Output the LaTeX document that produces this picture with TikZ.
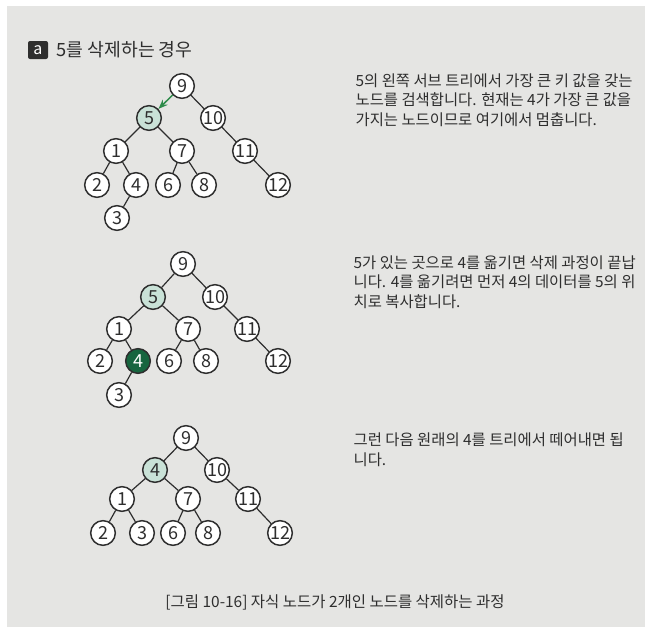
\documentclass[tikz,border=0pt]{standalone}
\usepackage{fontspec}
\newfontfamily\kr{Noto Sans CJK KR}
\usetikzlibrary{arrows.meta, positioning}
\definecolor{paper}{HTML}{E5E5E3}
\definecolor{ink}{HTML}{2E2E2E}
\definecolor{mint}{HTML}{C9E2D7}
\definecolor{deepgreen}{HTML}{17653F}
\definecolor{arrowgreen}{HTML}{2E8B4A}

\begin{document}
\begin{tikzpicture}[x=0.75pt, y=-0.75pt, line width=0.9pt,
    key/.style = {circle, draw=ink, fill=white, line width=1.1pt, minimum size=18.5pt, inner sep=0pt, text=ink, font=\kr\fontsize{13.5}{13.5}\selectfont},
    hit/.style = {key, fill=mint},
    moved/.style = {key, fill=deepgreen, text=white},
    link/.style = {draw=ink},
    desc/.style = {anchor=base west, align=left, text=ink, inner sep=0pt, font=\kr\fontsize{11.55}{14.6}\selectfont},
    > = {Stealth[scale=0.9]}]
    % page
    \fill[white] (0,0) rectangle (654,632);
    \fill[paper] (7,6) rectangle (645,627);
    \useasboundingbox (0,0) rectangle (654,632);

    % title
    \node[fill=ink, rounded corners=1.5pt, text=white, minimum width=15pt, minimum height=13.5pt, inner sep=0pt, font=\kr\fontsize{12}{12}\selectfont] (badge) at (38,50) {a};
    \node[anchor=west, text=ink, inner sep=0pt, font=\kr\fontsize{13.7}{13.7}\selectfont] (title) at (56,50) {5를 삭제하는 경우};

    % step 1 : search the left sub tree
    \node[key] (a9) at (182,86) {9};
    \node[hit] (a5) at (149,118) {5};
    \node[key] (a10) at (213,118) {10};
    \node[key] (a1) at (116,151) {1};
    \node[key] (a7) at (182,151) {7};
    \node[key] (a11) at (245,151) {11};
    \node[key] (a2) at (97,185) {2};
    \node[key] (a4) at (136,185) {4};
    \node[key] (a6) at (168,185) {6};
    \node[key] (a8) at (204,185) {8};
    \node[key] (a12) at (278,185) {12};
    \node[key] (a3) at (117,218) {3};
    \draw[->, draw=arrowgreen, line width=1.1pt] (a9) -- (a5);
    \draw[link] (a9) -- (a10);
    \draw[link] (a5) -- (a1);
    \draw[link] (a5) -- (a7);
    \draw[link] (a10) -- (a11);
    \draw[link] (a1) -- (a2);
    \draw[link] (a1) -- (a4);
    \draw[link] (a7) -- (a6);
    \draw[link] (a7) -- (a8);
    \draw[link] (a11) -- (a12);
    \draw[link] (a4) -- (a3);
    \node[desc] (txta) at (355,125) {5의 왼쪽 서브 트리에서 가장 큰 키 값을 갖는\\노드를 검색합니다. 현재는 4가 가장 큰 값을\\가지는 노드이므로 여기에서 멈춥니다.};

    % step 2 : copy 4 to the place of 5
    \node[key] (b9) at (183,264) {9};
    \node[hit] (b5) at (153,297) {5};
    \node[key] (b10) at (215,297) {10};
    \node[key] (b1) at (119,329) {1};
    \node[key] (b7) at (188,329) {7};
    \node[key] (b11) at (247,329) {11};
    \node[key] (b2) at (100,361) {2};
    \node[moved] (b4) at (138,361) {4};
    \node[key] (b6) at (169,361) {6};
    \node[key] (b8) at (206,361) {8};
    \node[key] (b12) at (278,361) {12};
    \node[key] (b3) at (119,395) {3};
    \draw[link] (b9) -- (b5);
    \draw[link] (b9) -- (b10);
    \draw[link] (b5) -- (b1);
    \draw[link] (b5) -- (b7);
    \draw[link] (b10) -- (b11);
    \draw[link] (b1) -- (b2);
    \draw[link] (b1) -- (b4);
    \draw[link] (b7) -- (b6);
    \draw[link] (b7) -- (b8);
    \draw[link] (b11) -- (b12);
    \draw[link] (b4) -- (b3);
    \node[desc] (txtb) at (353,307) {5가 있는 곳으로 4를 옮기면 삭제 과정이 끝납\\니다. 4를 옮기려면 먼저 4의 데이터를 5의 위\\치로 복사합니다.};

    % step 3 : cut off the old 4
    \node[key] (c9) at (186,438) {9};
    \node[hit] (c4) at (155,470) {4};
    \node[key] (c10) at (217,470) {10};
    \node[key] (c1) at (122,499) {1};
    \node[key] (c7) at (188,499) {7};
    \node[key] (c11) at (248,499) {11};
    \node[key] (c2) at (103,533) {2};
    \node[key] (c3) at (142,533) {3};
    \node[key] (c6) at (173,533) {6};
    \node[key] (c8) at (208,533) {8};
    \node[key] (c12) at (280,533) {12};
    \draw[link] (c9) -- (c4);
    \draw[link] (c9) -- (c10);
    \draw[link] (c4) -- (c1);
    \draw[link] (c4) -- (c7);
    \draw[link] (c10) -- (c11);
    \draw[link] (c1) -- (c2);
    \draw[link] (c1) -- (c3);
    \draw[link] (c7) -- (c6);
    \draw[link] (c7) -- (c8);
    \draw[link] (c11) -- (c12);
    \node[desc] (txtc) at (353,465) {그런 다음 원래의 4를 트리에서 떼어내면 됩\\니다.};

    % caption
    \node[text=ink, inner sep=0pt, font=\kr\fontsize{11.6}{11.6}\selectfont] (caption) at (335,602) {[그림 10-16] 자식 노드가 2개인 노드를 삭제하는 과정};
\end{tikzpicture}
\end{document}
